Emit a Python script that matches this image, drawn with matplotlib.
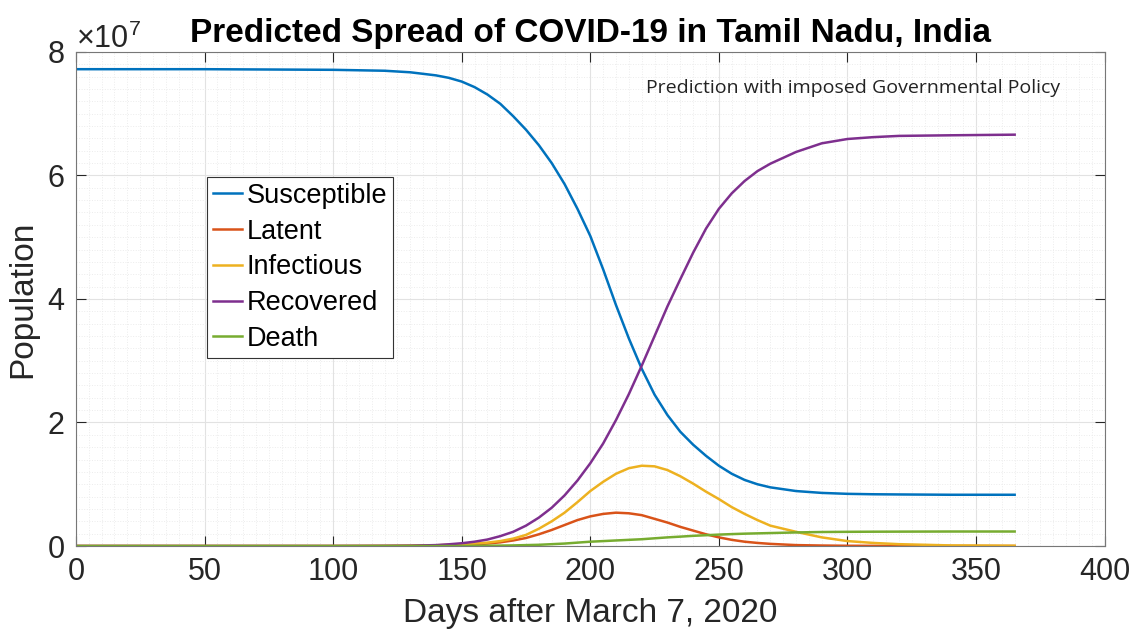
import numpy as np
import matplotlib
matplotlib.use("Agg")
import matplotlib.pyplot as plt
from matplotlib.ticker import MultipleLocator, ScalarFormatter

plt.rcParams['font.family'] = ['Liberation Sans', 'DejaVu Sans']
plt.rcParams['mathtext.fontset'] = 'custom'
plt.rcParams['mathtext.rm'] = 'Liberation Sans'

# days after March 7, 2020
days = [0, 50, 100, 120, 130, 140, 145, 150, 155, 160, 165, 170, 175, 180, 185,
        190, 195, 200, 205, 210, 215, 220, 225, 230, 235, 240, 245, 250, 255,
        260, 265, 270, 280, 290, 300, 310, 320, 340, 365]

# populations in units of 1e7
susceptible = [7.72, 7.72, 7.71, 7.695, 7.67, 7.62, 7.58, 7.52, 7.43, 7.31, 7.16,
               6.96, 6.74, 6.49, 6.20, 5.86, 5.46, 5.02, 4.48, 3.90, 3.36, 2.87,
               2.45, 2.12, 1.85, 1.64, 1.46, 1.30, 1.17, 1.07, 1.00, 0.95, 0.89,
               0.86, 0.845, 0.838, 0.835, 0.83, 0.83]
latent = [0, 0, 0, 0.001, 0.003, 0.01, 0.014, 0.02, 0.028, 0.04, 0.06, 0.09,
          0.13, 0.19, 0.26, 0.34, 0.42, 0.48, 0.52, 0.54, 0.53, 0.50, 0.44, 0.38,
          0.31, 0.25, 0.19, 0.14, 0.10, 0.07, 0.05, 0.035, 0.015, 0.008, 0.004,
          0.003, 0.002, 0.001, 0.0]
infectious = [0, 0, 0, 0.002, 0.005, 0.012, 0.02, 0.03, 0.04, 0.055, 0.08, 0.12,
              0.18, 0.28, 0.40, 0.54, 0.71, 0.89, 1.04, 1.17, 1.26, 1.30, 1.29,
              1.23, 1.13, 1.01, 0.88, 0.76, 0.63, 0.52, 0.42, 0.33, 0.23, 0.14,
              0.08, 0.05, 0.03, 0.01, 0.005]
recovered = [0, 0, 0, 0.002, 0.005, 0.015, 0.028, 0.045, 0.07, 0.105, 0.16, 0.23,
             0.33, 0.46, 0.62, 0.82, 1.06, 1.34, 1.66, 2.04, 2.46, 2.92, 3.40,
             3.88, 4.32, 4.75, 5.14, 5.46, 5.71, 5.91, 6.07, 6.19, 6.38, 6.52,
             6.59, 6.62, 6.64, 6.65, 6.66]
death = [0, 0, 0, 0, 0, 0, 0, 0, 0.003, 0.005, 0.007, 0.01, 0.015, 0.02, 0.03,
         0.04, 0.055, 0.07, 0.08, 0.09, 0.10, 0.11, 0.125, 0.14, 0.152, 0.165,
         0.175, 0.185, 0.193, 0.20, 0.205, 0.21, 0.22, 0.227, 0.23, 0.232, 0.233,
         0.235, 0.235]

series = [("Susceptible", susceptible, "#0072BD"),
          ("Latent", latent, "#D95319"),
          ("Infectious", infectious, "#EDB120"),
          ("Recovered", recovered, "#7E2F8E"),
          ("Death", death, "#77AC30")]

fig = plt.figure(figsize=(11.33, 6.33), dpi=100)
ax = fig.add_axes([0.067, 0.1374, 0.908, 0.7806])

x = np.array(days)
for name, vals, col in series:
    ax.plot(x, np.array(vals) * 1e7, color=col, lw=1.8, label=name)

ax.set_xlim(0, 400)
ax.set_ylim(0, 8e7)
ax.xaxis.set_major_locator(MultipleLocator(50))
ax.xaxis.set_minor_locator(MultipleLocator(5))
ax.yaxis.set_major_locator(MultipleLocator(2e7))
ax.yaxis.set_minor_locator(MultipleLocator(2e6))

fmt = ScalarFormatter(useMathText=True)
fmt.set_powerlimits((0, 0))
ax.yaxis.set_major_formatter(fmt)
ax.yaxis.get_offset_text().set_fontsize(22)
ax.yaxis.get_offset_text().set_color('#262626')

ax.grid(which='major', color='#e2e2e2', lw=0.8, ls='-')
ax.grid(which='minor', color='#ececec', lw=0.7, ls=':')
ax.set_axisbelow(True)

ax.tick_params(which='major', direction='in', length=7, width=0.8,
               top=True, right=True, labelsize=22, colors='#262626', pad=8)
ax.tick_params(which='minor', length=0, top=True, right=True)
for sp in ax.spines.values():
    sp.set_color('#777777')
    sp.set_linewidth(0.8)

ax.set_title("Predicted Spread of COVID-19 in Tamil Nadu, India",
             fontsize=24, fontweight='bold', pad=7)
ax.set_xlabel("Days after March 7, 2020", fontsize=24, color='#262626', labelpad=8)
ax.set_ylabel("Population", fontsize=24, color='#262626', labelpad=6)

ax.text(0.755, 0.927, "Prediction with imposed Governmental Policy",
        transform=ax.transAxes, ha='center', va='center', fontsize=14,
        family=['Open Sans', 'DejaVu Sans'], color='#222222')

leg = ax.legend(loc='upper left', bbox_to_anchor=(0.127, 0.747), fontsize=19.5,
                frameon=True, fancybox=False, framealpha=1, edgecolor='#333333',
                handlelength=1.1, handletextpad=0.15, borderpad=0.22,
                labelspacing=0.36, borderaxespad=0)
leg.get_frame().set_linewidth(0.8)

fig.savefig("out.png", dpi=100)
